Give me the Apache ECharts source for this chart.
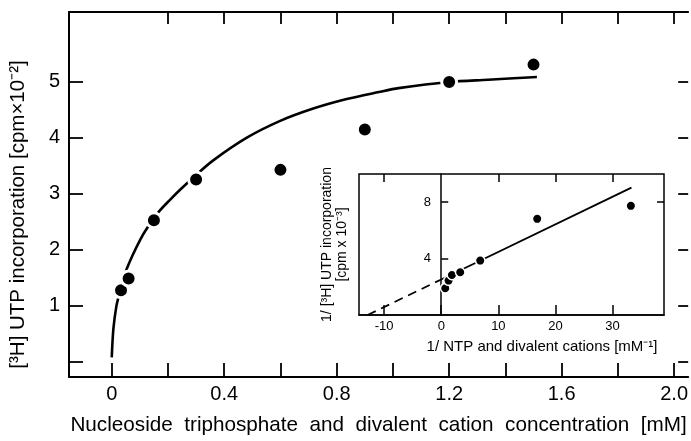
<!DOCTYPE html>
<html><head><meta charset="utf-8">
<script src="https://cdn.jsdelivr.net/npm/echarts@6/dist/echarts.min.js"></script>
<style>html,body{margin:0;padding:0;background:#fff}#c{width:691px;height:441px}</style>
</head><body><div id="c"></div>
<script>
// Main plot data
const concentration = [0.033, 0.06, 0.15, 0.30, 0.60, 0.90, 1.20, 1.50];
const incorporation = [1.28, 1.49, 2.53, 3.26, 3.43, 4.15, 5.00, 5.31];
// Hand-drawn saturation curve
const curveX = [0, 0.006, 0.017, 0.026, 0.049, 0.073, 0.102, 0.126, 0.167, 0.208, 0.244, 0.30, 0.361, 0.479, 0.597, 0.714, 0.832, 0.950, 1.020, 1.2, 1.338, 1.512];
const curveY = [0.08, 0.60, 1.01, 1.19, 1.60, 1.89, 2.19, 2.39, 2.68, 2.90, 3.08, 3.34, 3.60, 4.00, 4.30, 4.52, 4.69, 4.82, 4.89, 5.00, 5.04, 5.09];
// Main ticks
const xTickValues = [0, 0.2, 0.4, 0.6, 0.8, 1.0, 1.2, 1.4, 1.6, 1.8, 2.0];
const xTopTickValues = [0.2, 0.4, 0.6, 0.8, 1.0, 1.2, 1.4, 1.6, 1.8, 2.0];
const xLabelValues = [0, 0.4, 0.8, 1.2, 1.6, 2.0];
const xLabels = ['0', '0.4', '0.8', '1.2', '1.6', '2.0'];
const yTickValues = [0, 1, 2, 3, 4, 5];
const yLabelValues = [1, 2, 3, 4, 5];
const yLabels = ['1', '2', '3', '4', '5'];
// Inset (double reciprocal) data
const invConc = [0.70, 1.28, 1.87, 3.32, 6.82, 16.8, 33.2];
const invIncorp = [1.90, 2.44, 2.84, 3.03, 3.86, 6.82, 7.74];
const fitDashedX = [-12.9, 0];
const fitDashedY = [0, 2.52];
const fitSolidX = [0, 33.3];
const fitSolidY = [2.52, 9.03];
const insetXTicks = [-10, 0, 10, 20, 30];
const insetXLabels = ['-10', '0', '10', '20', '30'];
const insetXTopTicks = [-10, 10, 20, 30];
const insetYTicks = [4, 8];
const insetYLabels = ['4', '8'];
const insetYRightTicks = [8];

const FONT = 'Liberation Sans';
const pairs = (xs, ys) => xs.map((x, i) => [x, ys[i]]);
const lookup = (vals, labels) => v => {
  const i = vals.findIndex(a => Math.abs(a - v) < 1e-9);
  return i >= 0 ? labels[i] : '';
};

const chart = echarts.init(document.getElementById('c'), null, {renderer: 'canvas'});
chart.setOption({
  animation: false,
  backgroundColor: '#fff',
  grid: [
    {left: 68, top: 12, width: 624, height: 371},
    {left: 359, top: 174, width: 305, height: 141, show: true, backgroundColor: '#fff', borderColor: '#000', borderWidth: 1.5}
  ],
  xAxis: [
    {gridIndex: 0, type: 'value', position: 'bottom', min: -0.152, max: 2.05,
     axisLine: {onZero: false, lineStyle: {color: '#000', width: 2}},
     axisTick: {inside: true, length: 14, customValues: xTickValues, lineStyle: {color: '#000', width: 1.8}},
     axisLabel: {customValues: xLabelValues, formatter: lookup(xLabelValues, xLabels), color: '#000', fontSize: 20, fontFamily: FONT, margin: 7},
     splitLine: {show: false},
     name: 'Nucleoside  triphosphate  and  divalent  cation  concentration  [mM]', nameLocation: 'middle', nameGap: 38,
     nameTextStyle: {color: '#000', fontSize: 20.7, fontFamily: FONT}},
    {gridIndex: 0, type: 'value', position: 'top', min: -0.152, max: 2.05,
     axisLine: {onZero: false, lineStyle: {color: '#000', width: 1.8}},
     axisTick: {inside: true, length: 12, customValues: xTopTickValues, lineStyle: {color: '#000', width: 1.8}},
     axisLabel: {show: false}, splitLine: {show: false}},
    {gridIndex: 1, type: 'value', position: 'bottom', min: -14.4, max: 39.0,
     axisLine: {onZero: false, lineStyle: {color: '#000', width: 1.5}},
     axisTick: {inside: true, length: 10, customValues: insetXTicks, lineStyle: {color: '#000', width: 1.5}},
     axisLabel: {customValues: insetXTicks, formatter: lookup(insetXTicks, insetXLabels), color: '#000', fontSize: 13, fontFamily: FONT, margin: 5},
     splitLine: {show: false},
     name: '1/ NTP and divalent cations [mM⁻¹]', nameLocation: 'middle', nameGap: 24,
     nameTextStyle: {color: '#000', fontSize: 15, fontFamily: FONT, padding: [0, 0, 0, 61]}},
    {gridIndex: 1, type: 'value', position: 'top', min: -14.4, max: 39.0,
     axisLine: {show: false, onZero: false},
     axisTick: {inside: true, length: 8, customValues: insetXTopTicks, lineStyle: {color: '#000', width: 1.5}},
     axisLabel: {show: false}, splitLine: {show: false}}
  ],
  yAxis: [
    {gridIndex: 0, type: 'value', position: 'left', min: -0.27, max: 6.25,
     axisLine: {onZero: false, lineStyle: {color: '#000', width: 2}},
     axisTick: {inside: true, length: 14, customValues: yTickValues, lineStyle: {color: '#000', width: 1.8}},
     axisLabel: {customValues: yLabelValues, formatter: lookup(yLabelValues, yLabels), color: '#000', fontSize: 20, fontFamily: FONT, margin: 9},
     splitLine: {show: false},
     name: '[³H] UTP incorporation [cpm×10⁻²]', nameLocation: 'middle', nameGap: 40,
     nameTextStyle: {color: '#000', fontSize: 20.5, fontFamily: FONT, padding: [0, 40, 0, 0]}},
    {gridIndex: 0, type: 'value', position: 'right', min: -0.27, max: 6.25,
     axisLine: {show: false, onZero: false},
     axisTick: {inside: true, length: 10, customValues: yTickValues, lineStyle: {color: '#000', width: 1.8}},
     axisLabel: {show: false}, splitLine: {show: false}},
    {gridIndex: 1, type: 'value', position: 'left', min: 0, max: 10,
     axisLine: {onZero: true, onZeroAxisIndex: 2, lineStyle: {color: '#000', width: 1.5}},
     axisTick: {inside: true, length: 7, customValues: insetYTicks, lineStyle: {color: '#000', width: 1.5}},
     axisLabel: {customValues: insetYTicks, formatter: lookup(insetYTicks, insetYLabels), color: '#000', fontSize: 13, fontFamily: FONT, margin: -72},
     splitLine: {show: false},
     name: '1/ [³H] UTP incorporation\n[cpm x 10⁻³]', nameLocation: 'middle', nameGap: 9, nameMoveOverlap: false,
     nameTextStyle: {color: '#000', fontSize: 14, fontFamily: FONT, lineHeight: 15, align: 'center'}},
    {gridIndex: 1, type: 'value', position: 'right', min: 0, max: 10,
     axisLine: {show: false, onZero: false},
     axisTick: {inside: true, length: 7, customValues: insetYRightTicks, lineStyle: {color: '#000', width: 1.5}},
     axisLabel: {show: false}, splitLine: {show: false}}
  ],
  series: [
    {type: 'line', xAxisIndex: 0, yAxisIndex: 0, data: pairs(curveX, curveY), showSymbol: false, smooth: 0.3,
     lineStyle: {color: '#000', width: 2.6}, z: 2, silent: true},
    {type: 'scatter', xAxisIndex: 0, yAxisIndex: 0, data: pairs(concentration, incorporation), symbolSize: 15,
     itemStyle: {color: '#000', borderColor: '#fff', borderWidth: 3, opacity: 1}, z: 3},
    {type: 'line', xAxisIndex: 2, yAxisIndex: 2, data: pairs(fitDashedX, fitDashedY), showSymbol: false,
     lineStyle: {color: '#000', width: 1.8, type: [9, 6]}, z: 4},
    {type: 'line', xAxisIndex: 2, yAxisIndex: 2, data: pairs(fitSolidX, fitSolidY), showSymbol: false,
     lineStyle: {color: '#000', width: 1.8}, z: 4},
    {type: 'scatter', xAxisIndex: 2, yAxisIndex: 2, data: pairs(invConc, invIncorp), symbolSize: 9.5,
     itemStyle: {color: '#000', borderColor: '#fff', borderWidth: 1.5, opacity: 1}, z: 5}
  ]
});
</script></body></html>
